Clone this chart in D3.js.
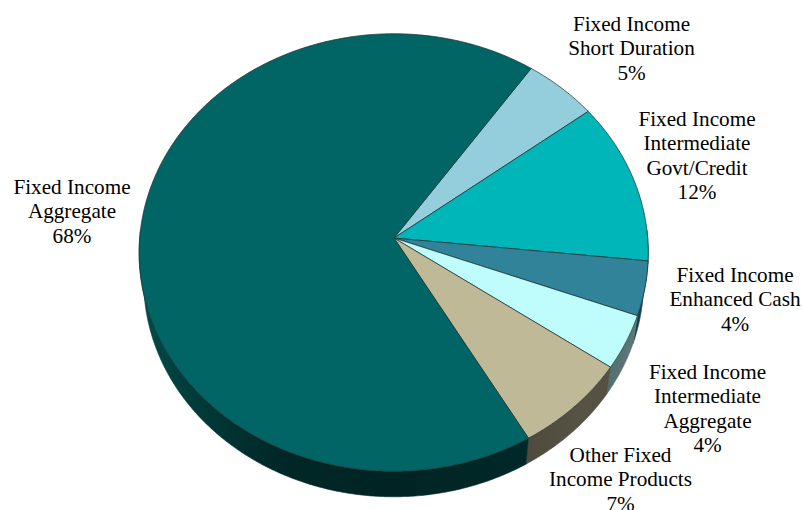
<!DOCTYPE html>
<html><head><meta charset="utf-8">
<script src="https://cdnjs.cloudflare.com/ajax/libs/d3/7.8.5/d3.min.js"></script>
<style>html,body{margin:0;padding:0;background:#fff}svg{display:block}</style>
</head><body><div id="c"></div>
<script>
const categories = ["Fixed Income Short Duration","Fixed Income Intermediate Govt/Credit","Fixed Income Enhanced Cash","Fixed Income Intermediate Aggregate","Other Fixed Income Products","Fixed Income Aggregate"];
const values = [5,12,4,4,7,68];
const colors = ["#94cddc","#00b6b8","#318399","#bffcfc","#c0b998","#006564"];
const labelLines = [["Fixed Income","Short Duration","5%"],["Fixed Income","Intermediate","Govt/Credit","12%"],["Fixed Income","Enhanced Cash","4%"],["Fixed Income","Intermediate","Aggregate","4%"],["Other Fixed","Income Products","7%"],["Fixed Income","Aggregate","68%"]];
const labelAnchors = [[631.5,24],[697,119],[735,275],[707.5,372],[620.5,455],[72,187]];

const W=803,H=510,depth=29,q=0.0664;
const svg=d3.select("#c").append("svg").attr("width",W).attr("height",H);
const defs=svg.append("defs");
const sx=d3.scaleLinear().domain([-1,1]).range([393.7-254,393.7+254]);
const sy=d3.scaleLinear().domain([-1,1]).range([238-217.8,238+217.8]);
const rad=Math.PI/180;
const arcs=d3.pie().sort(null).value(d=>d).startAngle(34.8*rad).endAngle((34.8+360)*rad)(values);
function proj(a,floor){
  const u=Math.sin(a),v=-Math.cos(a),w=1-q*v;
  const x=sx(u/w),y=sy(v/w);
  if(!floor) return [x,y];
  return [394+(x-394)*0.982,238+(y-238)*0.985+depth];
}
function samples(a0,a1,floor){
  const n=Math.max(2,Math.ceil((a1-a0)/(0.5*rad)));
  return d3.range(n+1).map(i=>proj(a0+(a1-a0)*i/n,floor));
}
const line=d3.line();
const wallG=svg.append("g"), topG=svg.append("g");
const visA0=88*rad, visA1=272*rad;
const shade=[[140,.74],[180,.62],[240,.48],[290,.38],[394,.36],[520,.40],[580,.45],[610,.44],[650,.50]];
arcs.forEach((d,i)=>{
  let a0=Math.max(d.startAngle,visA0),a1=Math.min(d.endAngle,visA1);
  if(a1<=a0) return;
  const gid="w"+i;
  const g=defs.append("linearGradient").attr("id",gid).attr("gradientUnits","userSpaceOnUse")
    .attr("x1",140).attr("x2",650).attr("y1",0).attr("y2",0);
  const base=d3.rgb(colors[i]);
  shade.forEach(([x,s])=>g.append("stop").attr("offset",(x-140)/510)
    .attr("stop-color",d3.rgb(base.r*s,base.g*s,base.b*s).formatHex()));
  const pts=samples(a0,a1,false).concat(samples(a0,a1,true).reverse());
  wallG.append("path").attr("d",line(pts)+"Z").attr("fill",`url(#${gid})`)
    .attr("stroke",`url(#${gid})`).attr("stroke-width",0.6);
});
const apex=[394,238];
arcs.forEach((d,i)=>{
  const pts=[apex].concat(samples(d.startAngle,d.endAngle,false));
  topG.append("path").attr("d",line(pts)+"Z").attr("fill",colors[i])
    .attr("stroke","#1d3434").attr("stroke-opacity",.75).attr("stroke-width",1).attr("stroke-linejoin","round");
});
const tg=svg.append("g").attr("font-family","'Liberation Serif','Times New Roman',serif").attr("font-size",21.2).attr("fill","#000").attr("text-anchor","middle");
labelLines.forEach((ls,i)=>ls.forEach((t,j)=>{
  tg.append("text").attr("x",labelAnchors[i][0]).attr("y",labelAnchors[i][1]+j*24.5).attr("dy","0.33em").text(t);
}));
</script></body></html>
